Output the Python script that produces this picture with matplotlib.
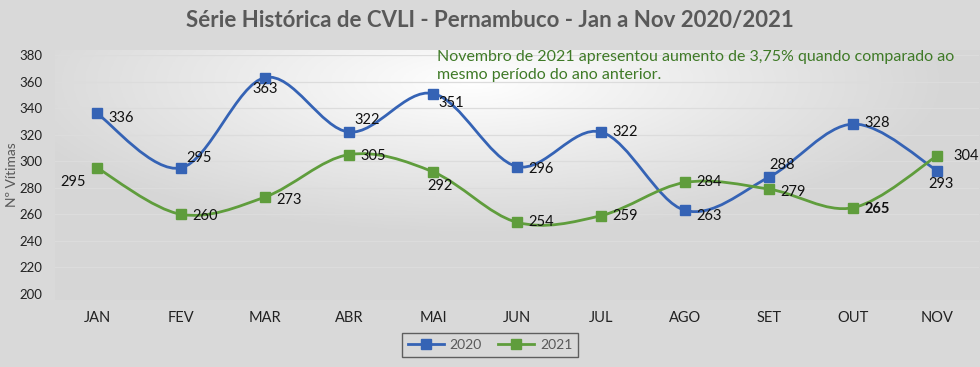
import numpy as np
import matplotlib
matplotlib.use("Agg")
import matplotlib.pyplot as plt
from matplotlib.path import Path
from matplotlib.patches import PathPatch

months = ["JAN", "FEV", "MAR", "ABR", "MAI", "JUN", "JUL", "AGO", "SET", "OUT", "NOV"]
v2020 = [336, 295, 363, 322, 351, 296, 322, 263, 288, 328, 293]
v2021 = [295, 260, 273, 305, 292, 254, 259, 284, 279, 265, 304]
yticks = list(range(200, 381, 20))

title = "Série Histórica de CVLI - Pernambuco - Jan a Nov 2020/2021"
note = "Novembro de 2021 apresentou aumento de 3,75% quando comparado ao\nmesmo período do ano anterior."

# label offsets (points) and alignment per point
off2020 = [(8, -3, 'left', 'center'), (4, 7, 'left', 'center'), (0, -8, 'center', 'center'),
           (4, 9, 'left', 'center'), (4, -7, 'left', 'center'), (8, -2, 'left', 'center'),
           (8, 0, 'left', 'center'), (8, -4, 'left', 'center'), (0, 9, 'left', 'center'),
           (8, 1, 'left', 'center'), (-6, -10, 'left', 'center')]
off2021 = [(-8, -10, 'right', 'center'), (8, -1, 'left', 'center'), (8, -2, 'left', 'center'),
           (8, -1, 'left', 'center'), (-4, -10, 'left', 'center'), (8, 0, 'left', 'center'),
           (8, 0, 'left', 'center'), (8, 0, 'left', 'center'), (8, -2, 'left', 'center'),
           (8, -1, 'left', 'center'), (12, 0, 'left', 'center')]

plt.rcParams['font.family'] = ['Lato', 'DejaVu Sans']

fig = plt.figure(figsize=(9.8, 3.67), dpi=100, facecolor='#d9d9d9')
ax = fig.add_axes([55/980, 1-294/367, 924/980, (294-55)/367])
ax.set_facecolor('none')

# gradient plot-area background
gx = np.linspace(-1, 1, 300)
gy = np.linspace(-1, 1, 120)
GX, GY = np.meshgrid(gx, gy)
r = np.sqrt(((GX + 0.1) / 1.1) ** 2 + ((GY + 0.75) / 1.3) ** 2)
shade = np.clip(1 - 0.17 * r, 0.84, 1.0)
bg = fig.add_axes([55/980, 1-300/367, 924/980, (300-50)/367], zorder=-1)
bg.imshow(np.dstack([shade, shade, shade]), aspect='auto', extent=[0, 1, 0, 1], origin='upper')
bg.axis('off')

x = np.arange(len(months))

def smooth_path(xs, ys):
    pts = np.column_stack([xs, ys]).astype(float)
    n = len(pts)
    verts = [pts[0]]
    codes = [Path.MOVETO]
    for i in range(n - 1):
        p0 = pts[i - 1] if i > 0 else pts[i]
        p1 = pts[i]
        p2 = pts[i + 1]
        p3 = pts[i + 2] if i + 2 < n else pts[i + 1]
        c1 = p1 + (p2 - p0) / 6
        c2 = p2 - (p3 - p1) / 6
        verts += [c1, c2, p2]
        codes += [Path.CURVE4] * 3
    return Path(verts, codes)

c2020 = '#3563b5'
c2021 = '#5f9d3c'
for vals, col in [(v2020, c2020), (v2021, c2021)]:
    ax.add_patch(PathPatch(smooth_path(x, vals), facecolor='none', edgecolor=col, lw=2.0, zorder=3))
    ax.plot(x, vals, ls='none', marker='s', ms=6.5, color=col, zorder=4)

# legend proxies
ax.plot([], [], color=c2020, lw=2.0, marker='s', ms=6.5, label='2020')
ax.plot([], [], color=c2021, lw=2.0, marker='s', ms=6.5, label='2021')

for vals, offs in [(v2020, off2020), (v2021, off2021)]:
    for i, (v, o) in enumerate(zip(vals, offs)):
        bold = (vals is v2021 and i == 9)
        ax.annotate(str(v), (x[i], v), xytext=(o[0], o[1]), textcoords='offset points',
                    ha=o[2], va=o[3], fontsize=10.5, color='#111111',
                    fontweight='bold' if bold else 'normal', zorder=5)

ax.set_xlim(-0.5, len(months) - 0.5)
ax.set_ylim(200, 380)
ax.set_yticks(yticks)
ax.set_xticks(x)
ax.set_xticklabels(months)
ax.tick_params(axis='both', length=0, labelsize=10.5, colors='#222222')
ax.tick_params(axis='x', pad=12)
ax.tick_params(axis='y', pad=9)
for lab in ax.get_yticklabels():
    lab.set_fontsize(9.5)
ax.grid(axis='y', color='#dcdcdc', lw=0.9)
for s in ax.spines.values():
    s.set_visible(False)
ax.set_ylabel('Nº Vítimas', color='#595959', fontsize=10)
ax.yaxis.set_label_coords(-37/924, 0.5)

fig.text(0.5, 1-20/367, title, ha='center', va='center', fontsize=16, fontweight='bold', color='#595959')
fig.text(437/980, 1-66/367, note, ha='left', va='center', fontsize=11.5, color='#3f7a27', linespacing=1.35)

leg = fig.legend(loc='center', bbox_to_anchor=(490/980, 1-345/367), ncol=2, frameon=True,
                 fontsize=10, handlelength=2.6, columnspacing=1.2, handletextpad=0.4,
                 borderpad=0.4, fancybox=False)
leg.get_frame().set_edgecolor('#404040')
leg.get_frame().set_facecolor('#d9d9d9')
leg.get_frame().set_linewidth(1.0)
for t in leg.get_texts():
    t.set_color('#595959')

fig.savefig('out.png', dpi=100, facecolor=fig.get_facecolor())
